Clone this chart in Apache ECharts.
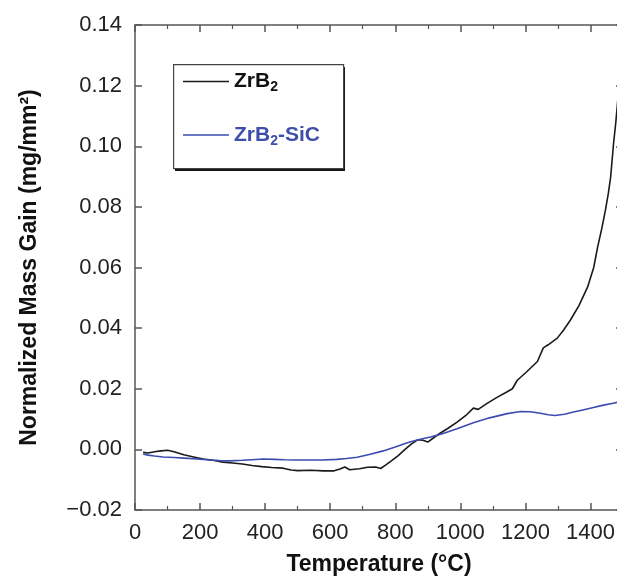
<!DOCTYPE html>
<html>
<head>
<meta charset="utf-8">
<script src="https://cdn.jsdelivr.net/npm/echarts@6/dist/echarts.min.js"></script>
<style>
html,body{margin:0;padding:0;background:#fff;}
#c{width:617px;height:576px;}
</style>
</head>
<body>
<div id="c"></div>
<script>
// ZrB2 (black)
var tempZrB2 = [25,40,60,80,100,120,150,180,210,240,270,300,330,360,390,420,455,480,500,540,580,610,630,645,660,690,715,740,755,770,790,810,830,850,870,885,900,920,940,960,990,1020,1040,1055,1080,1110,1144,1160,1175,1200,1237,1255,1270,1298,1317,1338,1365,1391,1410,1422,1435,1446,1455,1462,1471,1478,1483,1490,1495];
var massZrB2 = [-0.0010,-0.0012,-0.0008,-0.0005,-0.0003,-0.0008,-0.0018,-0.0025,-0.0032,-0.0036,-0.0042,-0.0045,-0.0048,-0.0053,-0.0057,-0.0060,-0.0062,-0.0068,-0.0070,-0.0069,-0.0071,-0.0071,-0.0065,-0.0058,-0.0067,-0.0064,-0.0059,-0.0058,-0.0063,-0.0052,-0.0036,-0.0020,0.0000,0.0018,0.0032,0.0030,0.0024,0.0040,0.0055,0.0068,0.0090,0.0115,0.0136,0.0132,0.0150,0.0170,0.0190,0.0200,0.0228,0.0252,0.0290,0.0335,0.0345,0.0367,0.0393,0.0426,0.0475,0.0535,0.0600,0.0667,0.0730,0.0789,0.0845,0.0898,0.1010,0.1080,0.1140,0.1230,0.1300];
// ZrB2-SiC (blue)
var tempZrB2SiC = [25,40,60,86,120,150,191,230,260,292,330,360,394,430,460,498,540,578,620,650,683,720,763,800,837,870,908,940,990,1040,1090,1144,1185,1215,1246,1270,1290,1320,1348,1380,1409,1440,1470,1490,1500];
var massZrB2SiC = [-0.0015,-0.0019,-0.0022,-0.0025,-0.0027,-0.0029,-0.0032,-0.0035,-0.0037,-0.0038,-0.0036,-0.0034,-0.0032,-0.0033,-0.0034,-0.0035,-0.0035,-0.0035,-0.0033,-0.0030,-0.0026,-0.0017,-0.0005,0.0008,0.0022,0.0032,0.0041,0.0050,0.0068,0.0088,0.0104,0.0118,0.0125,0.0124,0.0119,0.0114,0.0112,0.0116,0.0123,0.0131,0.0138,0.0146,0.0152,0.0157,0.0160];
var seriesNames = ['ZrB2','ZrB2-SiC'];
var xTitle = 'Temperature (°C)';
var yTitle = 'Normalized Mass Gain (mg/mm²)';

function pairs(xs, ys){ var out=[]; for(var i=0;i<xs.length;i++) out.push([xs[i], ys[i]]); return out; }

var FONT = '"Liberation Sans", Arial, Helvetica, sans-serif';
var AX = '#555';
var chart = echarts.init(document.getElementById('c'), null, {renderer:'canvas'});
var commonX = {
  type:'value', min:0, max:1500, interval:200,
  axisLine:{show:true, onZero:false, lineStyle:{color:AX, width:1.5}},
  axisTick:{show:true, inside:true, length:7, lineStyle:{color:AX, width:1.5}},
  minorTick:{show:true, splitNumber:2, length:4, lineStyle:{color:AX, width:1.2}},
  splitLine:{show:false}
};
var commonY = {
  type:'value', min:-0.02, max:0.14, interval:0.02,
  axisLine:{show:true, onZero:false, lineStyle:{color:AX, width:1.5}},
  axisTick:{show:true, inside:true, length:7, lineStyle:{color:AX, width:1.5}},
  splitLine:{show:false}
};
chart.setOption({
  animation:false,
  backgroundColor:'#fff',
  grid:{left:135, top:25, width:488, height:485, containLabel:false, outerBoundsMode:'none'},
  legend:{
    orient:'vertical', left:173, top:64, z:10,
    padding:[7,22,20,10],
    icon:'rect',
    itemWidth:46, itemHeight:1.6, itemGap:30,
    borderWidth:0, backgroundColor:'transparent',
    data:seriesNames,
    formatter:function(n){
      if(n==='ZrB2') return '{k|ZrB}{ks|2}';
      return '{b|ZrB}{bs|2}{b|-SiC}';
    },
    textStyle:{
      fontFamily:FONT,
      rich:{
        k:{fontFamily:FONT, fontWeight:'bold', fontSize:21, color:'#111', lineHeight:26},
        ks:{fontFamily:FONT, fontWeight:'bold', fontSize:14, color:'#111', lineHeight:14, verticalAlign:'bottom'},
        b:{fontFamily:FONT, fontWeight:'bold', fontSize:21, color:'#3f4ea8', lineHeight:26},
        bs:{fontFamily:FONT, fontWeight:'bold', fontSize:14, color:'#3f4ea8', lineHeight:14, verticalAlign:'bottom'}
      }
    }
  },
  graphic:[
    {type:'rect', left:175, top:67, z:3, silent:true,
     shape:{width:170, height:104}, style:{fill:'#111'}},
    {type:'rect', left:173, top:64, z:4, silent:true,
     shape:{width:170, height:104}, style:{fill:'#fff', stroke:'#444', lineWidth:1.2}}
  ],
  xAxis:[
    Object.assign({}, commonX, {
      position:'bottom',
      name:xTitle, nameLocation:'middle', nameGap:43,
      nameTextStyle:{fontFamily:FONT, fontWeight:'bold', fontSize:23, color:'#111'},
      axisLabel:{show:true, margin:12, fontFamily:FONT, fontSize:22, color:'#222',
        formatter:function(v){ return String(v); }}
    }),
    Object.assign({}, commonX, {position:'top', axisLabel:{show:false}})
  ],
  yAxis:[
    Object.assign({}, commonY, {
      position:'left',
      name:yTitle, nameLocation:'middle', nameGap:94,
      nameTextStyle:{fontFamily:FONT, fontWeight:'bold', fontSize:23, color:'#111'},
      axisLabel:{show:true, margin:13, fontFamily:FONT, fontSize:22, color:'#222',
        formatter:function(v){ var s=Math.abs(v).toFixed(2); return v < -1e-9 ? '\u2212'+s : s; }}
    }),
    Object.assign({}, commonY, {position:'right', axisLabel:{show:false}})
  ],
  series:[
    {name:seriesNames[0], type:'line', xAxisIndex:0, yAxisIndex:0, showSymbol:false, symbol:'none',
     lineStyle:{color:'#1a1a1a', width:1.6}, itemStyle:{color:'#1a1a1a'},
     data:pairs(tempZrB2, massZrB2)},
    {name:seriesNames[1], type:'line', xAxisIndex:0, yAxisIndex:0, showSymbol:false, symbol:'none',
     lineStyle:{color:'#3a4cb0', width:1.6}, itemStyle:{color:'#3a4cb0'},
     data:pairs(tempZrB2SiC, massZrB2SiC)}
  ]
});
</script>
</body>
</html>
